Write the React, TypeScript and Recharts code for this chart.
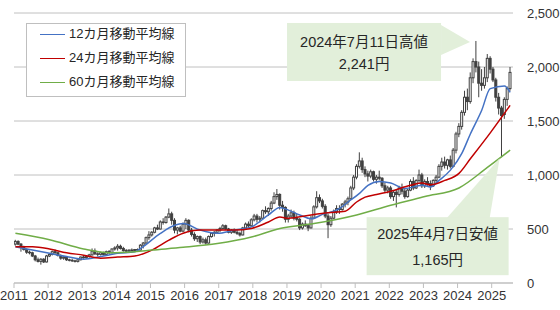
import React from 'react'
import { ComposedChart, Bar, Line, XAxis, YAxis, CartesianGrid, Legend, ReferenceDot } from 'recharts'

const FONT = "'Liberation Sans', Arial, 'Noto Sans CJK JP', sans-serif"
const START_YEAR = 2011
const CALLOUT = '#e2efda'
const CANDLE = '#404040'

// monthly candles, Jan 2011 - Jul 2025 (one row per year)
const open = [
  360, 385, 360, 330, 310, 285, 280, 250, 215, 200, 220, 195,
  250, 265, 290, 280, 255, 230, 240, 215, 210, 205, 200, 215,
  240, 235, 245, 260, 295, 270, 265, 280, 265, 290, 280, 315,
  325, 340, 320, 300, 295, 305, 300, 310, 305, 350, 370, 420,
  445, 470, 510, 500, 565, 560, 610, 640, 580, 490, 510, 480,
  545, 580, 490, 450, 410, 430, 380, 400, 370, 430, 460, 470,
  490, 505, 530, 500, 470, 490, 470, 460, 445, 510, 545, 530,
  585, 620, 590, 600, 670, 660, 690, 740, 800, 820, 720, 700,
  590, 620, 650, 600, 590, 510, 545, 530, 510, 600, 705, 790,
  760, 710, 620, 540, 600, 660, 690, 680, 730, 750, 780, 880,
  980, 1080, 1130, 1050, 1010, 990, 1030, 960, 980, 970, 900, 860,
  880, 800, 840, 820, 880, 850, 800, 860, 940, 880, 950, 1000,
  900, 940, 920, 900, 950, 980, 1080, 1120, 1090, 1140, 1080, 1230,
  1380, 1450, 1580, 1720, 1680, 1900, 2050, 2000, 1850, 1830, 1900, 2080,
  1980, 1880, 1720, 1620, 1560, 1700, 1800,
]
const high = [
  400, 395, 370, 345, 320, 300, 290, 260, 235, 230, 230, 260,
  275, 300, 310, 290, 265, 250, 245, 225, 225, 215, 220, 245,
  255, 250, 270, 320, 320, 285, 290, 290, 300, 305, 320, 340,
  360, 355, 335, 315, 310, 320, 315, 320, 360, 380, 430, 480,
  480, 520, 540, 580, 600, 620, 690, 660, 600, 520, 530, 560,
  600, 590, 510, 470, 440, 440, 420, 420, 440, 470, 480, 500,
  520, 545, 540, 510, 500, 505, 490, 475, 520, 560, 570, 600,
  640, 640, 620, 680, 710, 700, 760, 840, 870, 830, 760, 710,
  640, 680, 670, 640, 600, 560, 580, 545, 620, 720, 850, 820,
  780, 730, 640, 620, 680, 720, 720, 740, 770, 800, 900, 1000,
  1100, 1210, 1160, 1080, 1040, 1050, 1040, 1000, 1040, 980, 930, 900,
  900, 860, 870, 900, 920, 880, 870, 960, 980, 960, 1050, 1020,
  960, 980, 950, 960, 1000, 1100, 1160, 1170, 1150, 1180, 1250, 1400,
  1480, 1600, 1780, 1800, 1950, 2080, 2241, 2050, 1980, 2000, 2120, 2100,
  2000, 1900, 1760, 1640, 1720, 1820, 2000,
]
const low = [
  345, 350, 290, 300, 270, 265, 240, 200, 190, 170, 185, 190,
  240, 255, 270, 245, 215, 215, 205, 200, 195, 190, 190, 210,
  225, 225, 235, 255, 260, 245, 255, 255, 260, 270, 275, 300,
  300, 310, 290, 280, 285, 295, 290, 295, 300, 320, 360, 400,
  430, 460, 490, 495, 540, 550, 600, 540, 460, 450, 470, 470,
  500, 470, 430, 390, 380, 360, 365, 355, 365, 420, 430, 455,
  470, 495, 490, 460, 455, 460, 445, 430, 440, 500, 510, 520,
  570, 560, 560, 590, 640, 620, 670, 730, 770, 680, 660, 560,
  560, 600, 580, 570, 490, 495, 520, 480, 505, 590, 690, 740,
  690, 600, 415, 520, 590, 640, 640, 670, 700, 720, 770, 860,
  960, 1060, 1020, 980, 940, 970, 940, 920, 950, 880, 840, 830,
  780, 760, 700, 800, 820, 780, 790, 850, 860, 870, 930, 880,
  880, 900, 860, 890, 920, 970, 1040, 1060, 1050, 1060, 1070, 1200,
  1350, 1420, 1550, 1600, 1660, 1850, 1950, 1720, 1780, 1800, 1860, 1940,
  1860, 1680, 1560, 1165, 1520, 1640, 1780,
]
const close = [
  385, 360, 330, 310, 285, 280, 250, 215, 200, 220, 195, 250,
  265, 290, 280, 255, 230, 240, 215, 210, 205, 200, 215, 240,
  235, 245, 260, 295, 270, 265, 280, 265, 290, 280, 315, 325,
  340, 320, 300, 295, 305, 300, 310, 305, 350, 370, 420, 445,
  470, 510, 500, 565, 560, 610, 640, 580, 490, 510, 480, 545,
  580, 490, 450, 410, 430, 380, 400, 370, 430, 460, 470, 490,
  505, 530, 500, 470, 490, 470, 460, 445, 510, 545, 530, 585,
  620, 590, 600, 670, 660, 690, 740, 800, 820, 720, 700, 590,
  620, 650, 600, 590, 510, 545, 530, 510, 600, 705, 790, 760,
  710, 620, 540, 600, 660, 690, 680, 730, 750, 780, 880, 980,
  1080, 1130, 1050, 1010, 990, 1030, 960, 980, 970, 900, 860, 880,
  800, 840, 820, 880, 850, 800, 860, 940, 880, 950, 1000, 900,
  940, 920, 900, 950, 980, 1080, 1120, 1090, 1140, 1080, 1230, 1380,
  1450, 1580, 1720, 1680, 1900, 2050, 2000, 1850, 1830, 1900, 2080, 1980,
  1880, 1720, 1620, 1550, 1700, 1800, 1950,
]

// moving averages at a few months, joined by the line
const ma12Points: [string, number][] = [
  ['2011-01', 335], ['2011-07', 305], ['2012-01', 275], ['2012-07', 245], ['2013-01', 220],
  ['2013-07', 245], ['2014-01', 275], ['2014-07', 290], ['2014-09', 320], ['2015-04', 460],
  ['2015-09', 535], ['2015-12', 550], ['2016-06', 490], ['2016-12', 460], ['2017-06', 490],
  ['2017-12', 520], ['2018-06', 630], ['2018-10', 700], ['2019-01', 675], ['2019-05', 630],
  ['2019-09', 595], ['2020-01', 635], ['2020-07', 690], ['2020-10', 750], ['2021-02', 830],
  ['2021-05', 905], ['2021-09', 940], ['2022-01', 925], ['2022-06', 875], ['2022-12', 905],
  ['2023-03', 890], ['2023-06', 950], ['2023-10', 1045], ['2024-02', 1200], ['2024-05', 1380],
  ['2024-09', 1600], ['2024-12', 1800], ['2025-05', 1825], ['2025-07', 1765],
]
const ma24Points: [string, number][] = [
  ['2011-01', 335], ['2011-07', 335], ['2012-01', 315], ['2012-07', 280], ['2013-01', 258],
  ['2013-07', 230], ['2014-01', 240], ['2014-07', 250], ['2015-01', 305], ['2015-07', 397],
  ['2015-12', 460], ['2016-06', 490], ['2016-12', 490], ['2017-06', 490], ['2017-12', 505],
  ['2018-06', 565], ['2018-10', 610], ['2019-01', 600], ['2019-09', 630], ['2020-03', 650],
  ['2020-09', 665], ['2021-01', 750], ['2021-04', 795], ['2021-08', 820], ['2022-01', 850],
  ['2022-08', 905], ['2022-12', 925], ['2023-03', 910], ['2023-08', 950], ['2024-01', 1015],
  ['2024-05', 1150], ['2024-12', 1390], ['2025-07', 1645],
]
const ma60Points: [string, number][] = [
  ['2011-01', 460], ['2012-01', 400], ['2013-01', 315], ['2013-10', 280], ['2014-07', 290],
  ['2015-01', 305], ['2015-12', 330], ['2016-12', 365], ['2017-12', 425], ['2018-10', 505],
  ['2019-10', 550], ['2021-01', 630], ['2022-01', 720], ['2023-01', 800], ['2024-01', 880],
  ['2024-11', 1070], ['2025-07', 1230],
]

const series = [
  { key: 'ma12', name: '12カ月移動平均線', color: '#4472c4' },
  { key: 'ma24', name: '24カ月移動平均線', color: '#c00000' },
  { key: 'ma60', name: '60カ月移動平均線', color: '#70ad47' },
]

const yTicks = [0, 500, 1000, 1500, 2000, 2500]
const years = [2011, 2012, 2013, 2014, 2015, 2016, 2017, 2018, 2019, 2020, 2021, 2022, 2023, 2024, 2025]

const HIGH_LABEL = '2024年7月11日高値'
const LOW_LABEL = '2025年4月7日安値'

const monthIndex = (ym: string) => {
  const [y, m] = ym.split('-').map(Number)
  return (y - START_YEAR) * 12 + (m - 1)
}
const toMap = (pts: [string, number][]) => new Map(pts.map(([ym, v]) => [monthIndex(ym), v]))
const maMaps: Record<string, Map<number, number>> = {
  ma12: toMap(ma12Points),
  ma24: toMap(ma24Points),
  ma60: toMap(ma60Points),
}

const data = close.map((c, i) => ({
  t: i + 0.5,
  open: open[i],
  high: high[i],
  low: low[i],
  close: c,
  ma12: maMaps.ma12.get(i) ?? null,
  ma24: maMaps.ma24.get(i) ?? null,
  ma60: maMaps.ma60.get(i) ?? null,
}))

const hiIdx = high.indexOf(Math.max(...high))
const lastLows = low.slice(hiIdx)
const loIdx = hiIdx + lastLows.indexOf(Math.min(...lastLows))

function Candle(props: any) {
  const { x, y, width, height, payload } = props
  if (!payload) return null
  const top = Math.min(y, y + height)
  const h = Math.abs(height)
  const span = payload.high - payload.low
  const k = span > 0 ? h / span : 0
  const cx = x + width / 2
  const yOf = (v: number) => top + (payload.high - v) * k
  const up = payload.close >= payload.open
  const b1 = yOf(Math.max(payload.open, payload.close))
  const b2 = yOf(Math.min(payload.open, payload.close))
  return (
    <g>
      <line x1={cx} x2={cx} y1={top} y2={top + h} stroke={CANDLE} strokeWidth={1} />
      <rect x={cx - 1} y={b1} width={2} height={Math.max(b2 - b1, 0.5)}
        fill={up ? '#fff' : CANDLE} stroke={CANDLE} strokeWidth={1} />
    </g>
  )
}

const textProps = {
  textAnchor: 'middle' as const,
  dominantBaseline: 'central' as const,
  fontSize: 14.5,
  fill: '#262626',
  fontFamily: FONT,
}

function HighCallout({ cx, cy }: any) {
  const bx = cx - 189, bw = 154
  return (
    <g>
      <polygon points={`${bx + bw},${cy - 16} ${cx - 6},${cy + 1} ${bx + bw},${cy + 14}`} fill={CALLOUT} />
      <rect x={bx} y={cy - 18} width={bw} height={58} fill={CALLOUT} />
      <text x={bx + bw / 2} y={cy + 1} {...textProps}>{HIGH_LABEL}</text>
      <text x={bx + bw / 2} y={cy + 23} {...textProps}>{high[hiIdx].toLocaleString('en-US')}円</text>
    </g>
  )
}

function LowCallout({ cx, cy }: any) {
  const bx = cx - 135, bw = 142
  return (
    <g>
      <polygon points={`${cx - 55},${cy + 61} ${cx - 2},${cy + 1} ${cx - 12},${cy + 61}`} fill={CALLOUT} />
      <rect x={bx} y={cy + 60} width={bw} height={58} fill={CALLOUT} />
      <text x={bx + bw / 2} y={cy + 77} {...textProps}>{LOW_LABEL}</text>
      <text x={bx + bw / 2} y={cy + 103} {...textProps}>{low[loIdx].toLocaleString('en-US')}円</text>
    </g>
  )
}

function LegendBox({ payload }: any) {
  const items = (payload || []).filter((p: any) => p.type !== 'none')
  return (
    <div style={{
      position: 'relative', width: 158, height: 72, border: '1px solid #bfbfbf', background: '#fff',
      fontFamily: FONT, fontSize: 13, color: '#262626',
    }}>
      {items.map((e: any, i: number) => (
        <div key={e.value} style={{
          position: 'absolute', left: 0, top: i * 24 - 2, height: 24, lineHeight: '24px',
          display: 'flex', alignItems: 'center', whiteSpace: 'nowrap',
        }}>
          <span style={{ display: 'inline-block', width: 25, borderTop: `1px solid ${e.color}`, marginLeft: 13, marginRight: 4 }} />
          {e.value}
        </div>
      ))}
    </div>
  )
}

export default function App() {
  return (
    <div style={{ position: 'absolute', left: 0, top: 0, background: '#fff' }}>
      <ComposedChart width={560} height={310} data={data} margin={{ top: 13, right: 0, bottom: 0, left: 14 }}>
        <CartesianGrid vertical={false} stroke="#c0c0c0" />
        <XAxis
          dataKey="t"
          type="number"
          domain={[0, close.length + 0.5]}
          ticks={years.map((y) => (y - START_YEAR) * 12)}
          tickFormatter={(v) => String(START_YEAR + v / 12)}
          height={27}
          stroke="#bfbfbf"
          tickSize={5}
          tickMargin={3}
          tick={{ fontSize: 13, fill: '#333', fontFamily: FONT }}
          allowDataOverflow
        />
        <YAxis
          orientation="right"
          width={47}
          domain={[0, 2500]}
          ticks={yTicks}
          axisLine={false}
          tickLine={false}
          tickMargin={8}
          tickFormatter={(v) => v.toLocaleString('en-US')}
          tick={{ fontSize: 13, fill: '#333', fontFamily: FONT, textAnchor: 'start' }}
        />
        <Legend
          layout="vertical"
          align="center"
          verticalAlign="middle"
          content={LegendBox}
          wrapperStyle={{ left: 26, top: 23, width: 160, height: 74 }}
        />
        <Bar
          dataKey={(d: any) => [d.low, d.high]}
          barSize={3}
          shape={Candle}
          legendType="none"
          isAnimationActive={false}
        />
        {series.map((s) => (
          <Line
            key={s.key}
            dataKey={s.key}
            name={s.name}
            stroke={s.color}
            strokeWidth={1.5}
            type="monotone"
            dot={false}
            activeDot={false}
            connectNulls
            isAnimationActive={false}
          />
        ))}
        <ReferenceDot x={data[hiIdx].t} y={high[hiIdx]} shape={HighCallout} />
        <ReferenceDot x={data[loIdx].t} y={low[loIdx]} shape={LowCallout} />
      </ComposedChart>
    </div>
  )
}
